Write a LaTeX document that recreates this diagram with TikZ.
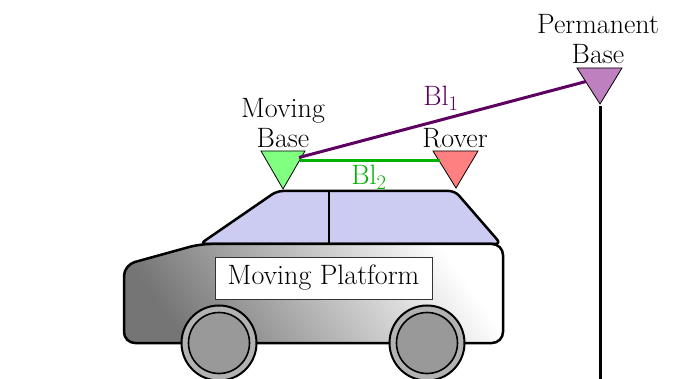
\documentclass[tikz,border=0pt]{standalone}
\usetikzlibrary{calc}
\definecolor{roofblue}{RGB}{204,204,242}
\definecolor{mbgreen}{RGB}{128,255,128}
\definecolor{rovred}{RGB}{255,128,128}
\definecolor{pbpurple}{RGB}{191,128,191}
\definecolor{blone}{RGB}{94,0,96}
\definecolor{bltwo}{RGB}{0,178,0}
\definecolor{wheelout}{RGB}{178,178,178}
\definecolor{wheelin}{RGB}{153,153,153}
\tikzset{
  outline/.style={draw=black, line width=2.5pt, line join=round},
  antenna/.style={draw=black, line width=0.8pt, line join=miter},
  lbl/.style={inner sep=0pt, align=center, font=\fontsize{28}{30}\selectfont},
  baseline link/.style={line width=3pt},
}
\begin{document}
\begin{tikzpicture}[x=1pt,y=-1pt]
\useasboundingbox (0,0) rectangle (682,379);

% roof and windows
\path[outline, fill=roofblue, rounded corners=6pt]
  (200,244) -- (277,191) -- (455,191) -- (501,244) -- cycle;
\draw[line width=2.2pt] (329,191) -- (329,244);

% body
\path[rounded corners=11pt, bottom color=black!54, top color=white, shading angle=-55]
  (124,343) -- (124,265) -- (200,244) -- (503,244) -- (503,343) -- cycle;
\draw[outline, rounded corners=11pt]
  (124,343) -- (124,265) -- (200,244) -- (503,244) -- (503,343) -- cycle;

% wheels
\foreach \n/\cx in {lw/219, rw/427}{
  \draw[line width=2pt, fill=wheelout] (\cx,343) circle[radius=37.5pt];
  \draw[line width=1.6pt, fill=wheelin] (\cx,343) circle[radius=30.5pt];
}

% platform label
\node[draw=black!80, line width=0.8pt, fill=white, minimum width=217pt, minimum height=42pt,
      inner sep=0pt, font=\fontsize{28}{30}\selectfont] (plat) at (323.5,278) {Moving Platform};

% permanent base pole
\coordinate (poletop) at (600,106);
\coordinate (polebot) at (600,381);
\draw[line width=3pt] (poletop) -- (polebot);

% antennas
\path[antenna, fill=mbgreen] (261,151) -- (305,151) -- (283,189) -- cycle;
\path[antenna, fill=rovred] (433,151) -- (478,151) -- (456,188) -- cycle;
\path[antenna, fill=pbpurple] (577,68) -- (622,68) -- (600,104) -- cycle;

\coordinate (mbA) at (299,157.5);
\coordinate (mbB) at (300,160.5);
\coordinate (rovA) at (440,160.5);
\coordinate (pbA) at (586,81.5);

% baselines
\draw[baseline link, blone] (mbA) -- (pbA);
\draw[baseline link, bltwo] (mbB) -- (rovA);

% labels
\node[lbl, anchor=south] (mblbl) at (283,148) {Moving\\Base};
\node[lbl, anchor=south] (rovlbl) at (455,148) {Rover};
\node[lbl, anchor=south] (pblbl) at (598,64) {Permanent\\Base};
\node[lbl, anchor=base, text=blone] (bl1) at (441,106) {Bl$_1$};
\node[lbl, anchor=base, text=bltwo] (bl2) at (369,185) {Bl$_2$};
\end{tikzpicture}
\end{document}
